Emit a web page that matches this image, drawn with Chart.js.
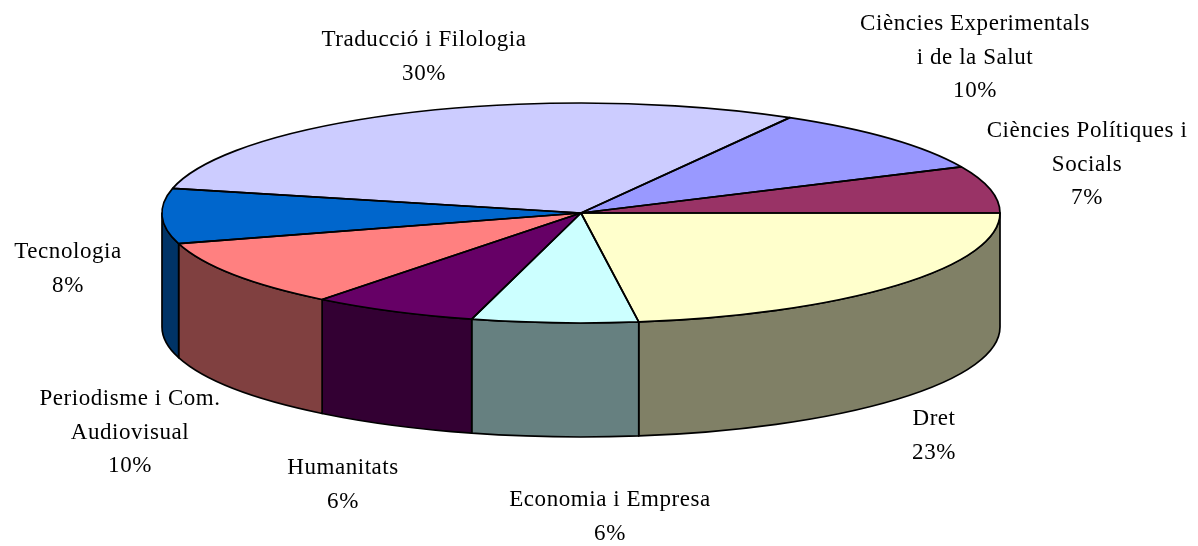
<!DOCTYPE html>
<html><head><meta charset="utf-8">
<script src="https://cdn.jsdelivr.net/npm/chart.js@4"></script>
<style>html,body{margin:0;padding:0;background:#fff}canvas{display:block}</style>
</head><body>
<canvas id="c" width="1198" height="546"></canvas>
<script>
const categories = ["Dret","Economia i Empresa","Humanitats","Periodisme i Com. Audiovisual","Tecnologia","Traducció i Filologia","Ciències Experimentals i de la Salut","Ciències Polítiques i Socials"];
const values = [22.8,6.4,6.4,9.9,8.1,29.7,9.8,6.9];
const topColors = ["#FFFFCC","#CCFFFF","#660066","#FF8080","#0066CC","#CCCCFF","#9999FF","#993366"];
const wallColors = ["#808066","#668080","#330033","#804040","#003366","#666680","#4C4C80","#4C1A33"];
const labelLines = [["Dret"],["Economia i Empresa"],["Humanitats"],["Periodisme i Com.","Audiovisual"],["Tecnologia"],["Traducció i Filologia"],["Ciències Experimentals","i de la Salut"],["Ciències Polítiques i","Socials"]];
const labelAnchors = [[934,419],[610,500],[343,468],[130,399],[68,252],[424,40],[975,24],[1087,131]];
const LINE_H = 33.5, FONT = '23px "Liberation Serif"';
const CX = 581, CY = 213, RX = 419, RY = 110, DEPTH = 114;

const pie3d = {
  id: 'pie3d',
  beforeDatasetsDraw(chart) {
    const ctx = chart.ctx, arcs = chart.getDatasetMeta(0).data;
    ctx.save();
    ctx.lineWidth = 1.7; ctx.strokeStyle = '#000'; ctx.lineJoin = 'round';
    // front walls
    arcs.forEach((arc, i) => {
      const a = Math.max(arc.startAngle, 0), b = Math.min(arc.endAngle, Math.PI);
      if (a >= b) return;
      ctx.beginPath();
      ctx.ellipse(CX, CY, RX, RY, 0, a, b);
      ctx.lineTo(CX + RX * Math.cos(b), CY + DEPTH + RY * Math.sin(b));
      ctx.ellipse(CX, CY + DEPTH, RX, RY, 0, b, a, true);
      ctx.closePath();
      ctx.fillStyle = wallColors[i];
      ctx.fill(); ctx.stroke();
    });
    // top faces, drawn by the library's arc elements under an elliptical transform
    arcs.forEach(arc => {
      const R = arc.outerRadius;
      ctx.save();
      ctx.translate(CX, CY); ctx.scale(RX / R, RY / R); ctx.translate(-arc.x, -arc.y);
      arc.draw(ctx);
      ctx.restore();
    });
    arcs.forEach(arc => {
      ctx.beginPath();
      ctx.moveTo(CX, CY);
      ctx.ellipse(CX, CY, RX, RY, 0, arc.startAngle, arc.endAngle);
      ctx.closePath();
      ctx.stroke();
    });
    ctx.restore();
    return false;
  },
  afterDraw(chart) {
    const ctx = chart.ctx;
    ctx.save();
    ctx.font = FONT; ctx.letterSpacing = '0.55px'; ctx.fillStyle = '#000'; ctx.textAlign = 'center'; ctx.textBaseline = 'middle';
    labelLines.forEach((lines, i) => {
      const [x, y] = labelAnchors[i];
      lines.concat(Math.round(values[i]) + '%').forEach((t, j) => ctx.fillText(t, x, y + j * LINE_H));
    });
    ctx.restore();
  }
};

new Chart(document.getElementById('c'), {
  type: 'pie',
  data: { labels: categories, datasets: [{ data: values, backgroundColor: topColors, borderWidth: 0 }] },
  options: {
    responsive: false, animation: false, rotation: 90,
    plugins: { legend: { display: false }, tooltip: { enabled: false } }
  },
  plugins: [pie3d, { id: 'bg', beforeDraw(c) { c.ctx.fillStyle = '#fff'; c.ctx.fillRect(0, 0, c.width, c.height); } }]
});
</script>
</body></html>
